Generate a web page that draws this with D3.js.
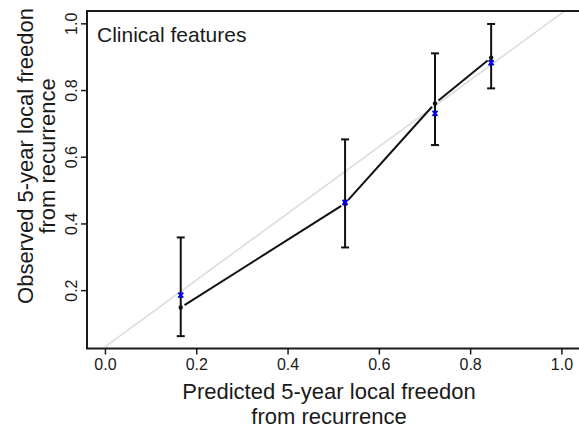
<!DOCTYPE html>
<html>
<head>
<meta charset="utf-8">
<script src="https://cdn.jsdelivr.net/npm/d3@7"></script>
<style>
  body { margin: 0; background: #fff; }
  text { font-family: "Liberation Sans", Arial, Helvetica, sans-serif; fill: #1a1a1a; }
</style>
</head>
<body>
<div id="chart"></div>
<script>
// Calibration data
var predicted = [0.166, 0.526, 0.723, 0.846];   // x: predicted probability
var observed  = [0.148, 0.460, 0.760, 0.897];   // black dots (joined by the line)
var lower     = [0.062, 0.328, 0.635, 0.805];   // error bar bottom
var upper     = [0.358, 0.652, 0.910, 0.998];   // error bar top
var corrected = [0.185, 0.463, 0.730, 0.882];   // blue crosses
var refLine   = [[0, 0.03], [1.04, 1.07]];       // light grey reference line
var xTicks = [0, 0.2, 0.4, 0.6, 0.8, 1.0];
var yTicks = [0.2, 0.4, 0.6, 0.8, 1.0];
var xTitle = ["Predicted 5-year local freedon", "from recurrence"];
var yTitle = ["Observed 5-year local freedon", "from recurrence"];

var width = 579, height = 430;
var plot = {left: 87, top: 11, right: 581, bottom: 348.5};

var svg = d3.select("#chart")
    .append("svg")
        .attr("width", width)
        .attr("height", height);

// Set the ranges
var x = d3.scaleLinear().domain([-0.04, 1.04]).range([86.7, 579.7]);
var y = d3.scaleLinear().domain([0.025, 1.037]).range([plot.bottom, plot.top]);

svg.append("clipPath")
    .attr("id", "clip")
    .append("rect")
        .attr("x", plot.left)
        .attr("y", plot.top)
        .attr("width", plot.right - plot.left)
        .attr("height", plot.bottom - plot.top);

// Reference line
svg.append("path")
    .datum(refLine)
    .attr("clip-path", "url(#clip)")
    .attr("fill", "none")
    .attr("stroke", "#dcdcdc")
    .attr("stroke-width", 1.6)
    .attr("d", d3.line()
        .x(function(d) { return x(d[0]); })
        .y(function(d) { return y(d[1]); }));

// Error bars
var bars = svg.append("g")
    .attr("stroke", "#111")
    .attr("stroke-width", 2);
predicted.forEach(function(p, i) {
    bars.append("line")
        .attr("x1", x(p)).attr("x2", x(p))
        .attr("y1", y(lower[i])).attr("y2", y(upper[i]));
    bars.append("line")
        .attr("x1", x(p) - 4).attr("x2", x(p) + 4)
        .attr("y1", y(lower[i])).attr("y2", y(lower[i]));
    bars.append("line")
        .attr("x1", x(p) - 4).attr("x2", x(p) + 4)
        .attr("y1", y(upper[i])).attr("y2", y(upper[i]));
});

// Connecting line, with small gaps around the points
var gap = 4.5;
for (var i = 0; i < predicted.length - 1; i++) {
    var x1 = x(predicted[i]), y1 = y(observed[i]),
        x2 = x(predicted[i + 1]), y2 = y(observed[i + 1]);
    var len = Math.sqrt((x2 - x1) * (x2 - x1) + (y2 - y1) * (y2 - y1));
    var ux = (x2 - x1) / len, uy = (y2 - y1) / len;
    svg.append("line")
        .attr("x1", x1 + ux * gap).attr("y1", y1 + uy * gap)
        .attr("x2", x2 - ux * gap).attr("y2", y2 - uy * gap)
        .attr("stroke", "#111")
        .attr("stroke-width", 2);
}

// Observed points
svg.selectAll(".dot")
    .data(predicted)
    .enter().append("circle")
    .attr("class", "dot")
    .attr("r", 2.2)
    .attr("cx", function(d) { return x(d); })
    .attr("cy", function(d, i) { return y(observed[i]); })
    .attr("fill", "#111");

// Blue crosses
svg.selectAll(".cross")
    .data(predicted)
    .enter().append("path")
    .attr("class", "cross")
    .attr("transform", function(d, i) {
        return "translate(" + x(d) + "," + y(corrected[i]) + ")"; })
    .attr("d", "M-2.5,-2.5L2.5,2.5M-2.5,2.5L2.5,-2.5")
    .attr("stroke", "#0000ff")
    .attr("stroke-width", 2);

// Frame
svg.append("rect")
    .attr("x", plot.left)
    .attr("y", plot.top)
    .attr("width", plot.right - plot.left)
    .attr("height", plot.bottom - plot.top)
    .attr("fill", "none")
    .attr("stroke", "#1a1a1a")
    .attr("stroke-width", 2);

// Add the X Axis
var xAxis = svg.append("g")
    .attr("transform", "translate(0," + plot.bottom + ")")
    .call(d3.axisBottom(x).tickValues(xTicks)
        .tickFormat(d3.format(".1f")).tickSize(6).tickPadding(4));
xAxis.select(".domain").remove();
xAxis.selectAll("line").attr("stroke", "#1a1a1a").attr("stroke-width", 1.5);
xAxis.selectAll("text")
    .style("font-family", "Liberation Sans, Arial, sans-serif")
    .style("font-size", "16px")
    .attr("fill", "#1a1a1a");

// Add the Y Axis
var yAxis = svg.append("g")
    .attr("transform", "translate(" + plot.left + ",0)")
    .call(d3.axisLeft(y).tickValues(yTicks)
        .tickFormat(d3.format(".1f")).tickSize(6));
yAxis.select(".domain").remove();
yAxis.selectAll("line").attr("stroke", "#1a1a1a").attr("stroke-width", 1.5);
yAxis.selectAll("text")
    .attr("transform", "rotate(-90)")
    .attr("x", 0)
    .attr("y", -10)
    .attr("dy", 0)
    .attr("text-anchor", "middle")
    .style("font-family", "Liberation Sans, Arial, sans-serif")
    .style("font-size", "16px")
    .attr("fill", "#1a1a1a");

// Axis titles (two lines each, as tspans)
var xt = svg.append("text")
    .attr("x", 329).attr("y", 398.5)
    .attr("text-anchor", "middle")
    .style("font-size", "22px");
xt.selectAll("tspan")
    .data(xTitle)
    .enter().append("tspan")
    .attr("x", 329)
    .attr("dy", function(d, i) { return i ? 25 : 0; })
    .text(function(d) { return d; });

var yt = svg.append("text")
    .attr("transform", "translate(33,156) rotate(-90)")
    .attr("text-anchor", "middle")
    .style("font-size", "22px");
yt.selectAll("tspan")
    .data(yTitle)
    .enter().append("tspan")
    .attr("x", 0)
    .attr("dy", function(d, i) { return i ? 22 : 0; })
    .text(function(d) { return d; });

// Panel label
svg.append("text")
    .attr("x", 97).attr("y", 41.5)
    .style("font-size", "21px")
    .text("Clinical features");
</script>
</body>
</html>
